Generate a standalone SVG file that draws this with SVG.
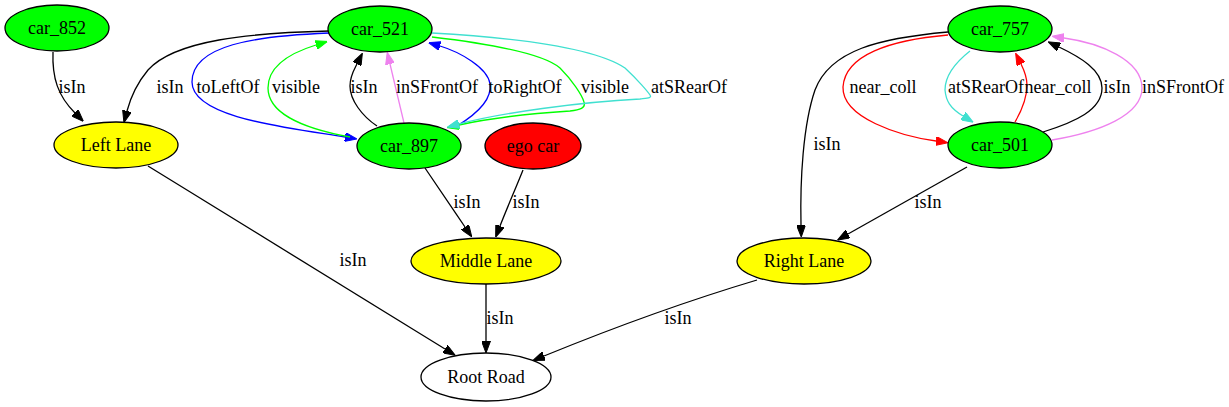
<svg xmlns="http://www.w3.org/2000/svg" width="1229" height="407" viewBox="0 0 1229 407">
<style>
text{font-family:"Liberation Serif","Times New Roman",serif;font-size:18px;fill:#000;text-anchor:middle}
.n{stroke:#000;stroke-width:1.3}
.g{fill:#00ff00}.y{fill:#ffff00}.r{fill:#ff0000}.w{fill:#fff}
.e{fill:none;stroke-width:1.3}
.k{stroke:#000}.b{stroke:#0000ff}.gr{stroke:#00ff00}.v{stroke:#ee82ee}.t{stroke:#40e0d0}.rd{stroke:#ff0000}
</style>
<defs>
<marker id="ak" viewBox="0 0 12 9" refX="0" refY="4.5" markerWidth="12" markerHeight="9" markerUnits="userSpaceOnUse" orient="auto"><path d="M0,0L12,4.5L0,9z" fill="#000" stroke="#000"/></marker>
<marker id="ab" viewBox="0 0 12 9" refX="0" refY="4.5" markerWidth="12" markerHeight="9" markerUnits="userSpaceOnUse" orient="auto"><path d="M0,0L12,4.5L0,9z" fill="#0000ff" stroke="#0000ff"/></marker>
<marker id="ag" viewBox="0 0 12 9" refX="0" refY="4.5" markerWidth="12" markerHeight="9" markerUnits="userSpaceOnUse" orient="auto"><path d="M0,0L12,4.5L0,9z" fill="#00ff00" stroke="#00ff00"/></marker>
<marker id="av" viewBox="0 0 12 9" refX="0" refY="4.5" markerWidth="12" markerHeight="9" markerUnits="userSpaceOnUse" orient="auto"><path d="M0,0L12,4.5L0,9z" fill="#ee82ee" stroke="#ee82ee"/></marker>
<marker id="at" viewBox="0 0 12 9" refX="0" refY="4.5" markerWidth="12" markerHeight="9" markerUnits="userSpaceOnUse" orient="auto"><path d="M0,0L12,4.5L0,9z" fill="#40e0d0" stroke="#40e0d0"/></marker>
<marker id="ar" viewBox="0 0 12 9" refX="0" refY="4.5" markerWidth="12" markerHeight="9" markerUnits="userSpaceOnUse" orient="auto"><path d="M0,0L12,4.5L0,9z" fill="#ff0000" stroke="#ff0000"/></marker>
</defs>
<rect width="1229" height="407" fill="#fff"/>
<g id="edges">
<path class="e k" marker-end="url(#ak)" d="M53,52 C52,78 58,96 75,113"/>
<text x="72" y="93">isIn</text>
<path class="e k" marker-end="url(#ak)" d="M329,31 C250,33 175,40 148,70 C138,82 131,96 127,111"/>
<text x="170" y="93">isIn</text>
<path class="e b" marker-end="url(#ab)" d="M329,33 C255,36 192,45 192,82 C192,118 290,128 345,137"/>
<text x="228" y="93">toLeftOf</text>
<path class="e gr" marker-end="url(#ag)" d="M350,137 C300,128 268,112 268,88 C268,66 290,53 316,45"/>
<text x="296" y="93">visible</text>
<path class="e k" marker-end="url(#ak)" d="M377,126 C362,116 350,100 350,86 C350,76 354,70 357,64"/>
<text x="364" y="93">isIn</text>
<path class="e v" marker-end="url(#av)" d="M404,123 L390,64"/>
<text x="437" y="93">inSFrontOf</text>
<path class="e b" marker-end="url(#ab)" d="M457,126 C480,112 492,98 490,84 C488,68 460,52 440,46"/>
<text x="525" y="93">toRightOf</text>
<path class="e gr" marker-end="url(#ag)" d="M432,37 C500,45 545,55 560,68 C572,80 582,95 584,102 C586,108 580,110 570,111 C540,113 490,118 459,125"/>
<text x="605" y="93">visible</text>
<path class="e t" marker-end="url(#at)" d="M432,33 C520,38 595,48 625,68 C638,80 648,92 650,95 C652,98 648,98 640,99 C580,102 500,113 459,124"/>
<text x="689" y="93">atSRearOf</text>
<path class="e k" marker-end="url(#ak)" d="M425,168 C440,190 452,208 465,227"/>
<text x="467" y="208">isIn</text>
<path class="e k" marker-end="url(#ak)" d="M523,170 C515,190 507,208 500,226"/>
<text x="526" y="208">isIn</text>
<path class="e k" marker-end="url(#ak)" d="M148,166 C250,228 350,290 445,349"/>
<text x="353" y="266">isIn</text>
<path class="e k" marker-end="url(#ak)" d="M486,284 L486,341"/>
<text x="500" y="324">isIn</text>
<path class="e k" marker-end="url(#ak)" d="M757,280 C690,300 615,327 544,356"/>
<text x="678" y="324">isIn</text>
<path class="e k" marker-end="url(#ak)" d="M948,32 C880,38 830,50 815,90 C803,125 800,180 801,225"/>
<text x="827" y="150">isIn</text>
<path class="e rd" marker-end="url(#ar)" d="M948,35 C890,40 845,55 843,87 C842,118 900,136 936,141"/>
<text x="883" y="93">near_coll</text>
<path class="e t" marker-end="url(#at)" d="M970,51 C956,62 945,76 945,90 C946,101 950,108 963,116"/>
<text x="986" y="93">atSRearOf</text>
<path class="e rd" marker-end="url(#ar)" d="M1015,122 C1022,110 1027,96 1027,85 C1027,77 1024,70 1021,64"/>
<text x="1058" y="93">near_coll</text>
<path class="e k" marker-end="url(#ak)" d="M1043,132 C1075,122 1102,110 1102,88 C1102,70 1080,57 1059,47"/>
<text x="1117" y="93">isIn</text>
<path class="e v" marker-end="url(#av)" d="M1052,140 C1100,132 1142,115 1142,88 C1142,60 1100,43 1064,38"/>
<text x="1183" y="93">inSFrontOf</text>
<path class="e k" marker-end="url(#ak)" d="M967,167 C930,188 890,210 848,234"/>
<text x="928" y="208">isIn</text>
</g>
<g id="car_852"><ellipse class="n g" cx="57" cy="28" rx="52" ry="23"/><text x="57" y="34">car_852</text></g>
<g id="car_521"><ellipse class="n g" cx="380" cy="29" rx="52" ry="23"/><text x="380" y="35">car_521</text></g>
<g id="left_lane"><ellipse class="n y" cx="116" cy="145" rx="62" ry="23"/><text x="116" y="151">Left Lane</text></g>
<g id="car_897"><ellipse class="n g" cx="409" cy="146" rx="52" ry="23"/><text x="409" y="152">car_897</text></g>
<g id="ego_car"><ellipse class="n r" cx="533" cy="146" rx="48" ry="23"/><text x="533" y="152">ego car</text></g>
<g id="car_757"><ellipse class="n g" cx="1000" cy="29" rx="52" ry="23"/><text x="1000" y="35">car_757</text></g>
<g id="car_501"><ellipse class="n g" cx="1000" cy="145" rx="52" ry="23"/><text x="1000" y="151">car_501</text></g>
<g id="middle_lane"><ellipse class="n y" cx="486" cy="261" rx="75" ry="23"/><text x="486" y="267">Middle Lane</text></g>
<g id="right_lane"><ellipse class="n y" cx="804" cy="261" rx="67" ry="23"/><text x="804" y="267">Right Lane</text></g>
<g id="root_road"><ellipse class="n w" cx="486" cy="377" rx="65" ry="24"/><text x="486" y="383">Root Road</text></g>
</svg>
